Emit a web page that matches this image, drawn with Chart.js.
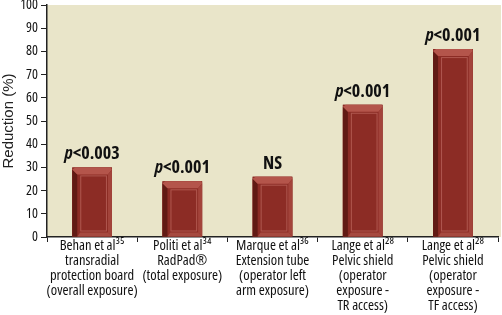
<!DOCTYPE html>
<html>
<head>
<meta charset="utf-8">
<script src="https://cdn.jsdelivr.net/npm/chart.js@4/dist/chart.umd.min.js"></script>
<style>
  html, body { margin: 0; padding: 0; background: #fff; }
  #wrap { width: 502px; height: 315px; }
</style>
</head>
<body>
<div id="wrap"><canvas id="chart" width="502" height="315"></canvas></div>
<script>
"use strict";
// chart data
let studyLabels = [
  ["Behan et al³⁵", "transradial", "protection board", "(overall exposure)"],
  ["Politi et al³⁴", "RadPad®", "(total exposure)"],
  ["Marque et al³⁶", "Extension tube", "(operator left", "arm exposure)"],
  ["Lange et al²⁸", "Pelvic shield", "(operator", "exposure -", "TR access)"],
  ["Lange et al²⁸", "Pelvic shield", "(operator", "exposure -", "TF access)"],
];
let reductionValues = [30, 24, 26, 57, 81];
let pValueLabels = ["<0.003", "<0.001", "NS", "<0.001", "<0.001"];
let yTicks = [0, 10, 20, 30, 40, 50, 60, 70, 80, 90, 100];

// condensed face of Open Sans, set via the weight slot of the font string
const NARROW = "'Open Sans', 'DejaVu Sans Condensed', sans-serif";
const LABEL_LIFT = 8;

// beige plot background
const plotBackground = {
  id: "plotBackground",
  beforeDraw(chart) {
    let a = chart.chartArea;
    let ctx = chart.ctx;
    ctx.save();
    ctx.fillStyle = "#e9e5c9";
    ctx.fillRect(a.left, a.top, a.right - a.left + 3, a.bottom - a.top);
    ctx.restore();
  }
};

// bevelled bar look + p value labels
const bevelBars = {
  id: "bevelBars",
  afterDatasetsDraw(chart) {
    let ctx = chart.ctx;
    let meta = chart.getDatasetMeta(0);
    ctx.save();
    meta.data.forEach(function (bar, i) {
      let left = bar.x - bar.width / 2;
      let right = bar.x + bar.width / 2;
      let top = bar.y;
      let bottom = bar.base;
      let side = 5;
      let bev = 7;

      ctx.fillStyle = "#8c2c25";
      ctx.fillRect(left, top, right - left, bottom - top);

      // dark left side
      ctx.fillStyle = "#611a14";
      ctx.beginPath();
      ctx.moveTo(left, top + 2);
      ctx.lineTo(left + side, top + bev);
      ctx.lineTo(left + side, bottom);
      ctx.lineTo(left, bottom);
      ctx.closePath();
      ctx.fill();

      // top bevel
      ctx.fillStyle = "#b4554b";
      ctx.beginPath();
      ctx.moveTo(left, top + 2);
      ctx.lineTo(left + 3, top);
      ctx.lineTo(right - 1, top);
      ctx.lineTo(right, top + 2);
      ctx.lineTo(right - 4, top + bev);
      ctx.lineTo(left + side, top + bev);
      ctx.closePath();
      ctx.fill();

      // right bevel
      ctx.fillStyle = "#a3443b";
      ctx.beginPath();
      ctx.moveTo(right, top + 2);
      ctx.lineTo(right, bottom);
      ctx.lineTo(right - 4, bottom - 4);
      ctx.lineTo(right - 4, top + bev);
      ctx.closePath();
      ctx.fill();

      // bottom bevel
      ctx.fillStyle = "#a64a40";
      ctx.beginPath();
      ctx.moveTo(left + side, bottom);
      ctx.lineTo(right, bottom);
      ctx.lineTo(right - 4, bottom - 4);
      ctx.lineTo(left + side + 3, bottom - 4);
      ctx.closePath();
      ctx.fill();

      // faint inner highlight
      ctx.strokeStyle = "rgba(220,140,130,0.45)";
      ctx.lineWidth = 1;
      ctx.strokeRect(left + side + 3.5, top + bev + 1.5, right - left - side - 9, bottom - top - bev - 7);

      // p value label
      let txt = pValueLabels[i];
      let ty = top - LABEL_LIFT;
      let regular = "bold condensed 18px " + NARROW;
      let italic = "italic bold condensed 18px " + NARROW;
      ctx.fillStyle = "#111";
      ctx.textBaseline = "alphabetic";
      if (txt === "NS") {
        ctx.font = regular;
        ctx.textAlign = "center";
        ctx.fillText(txt, bar.x, ty);
      } else {
        ctx.font = italic;
        let pw = ctx.measureText("p").width;
        ctx.font = regular;
        let rw = ctx.measureText(txt).width;
        let start = bar.x - (pw + rw) / 2;
        ctx.textAlign = "left";
        ctx.font = italic;
        ctx.fillText("p", start, ty);
        ctx.font = regular;
        ctx.fillText(txt, start + pw, ty);
      }
    });
    ctx.restore();
  }
};

let ctx = document.getElementById("chart").getContext("2d");
let myChart = new Chart(ctx, {
  type: "bar",
  data: {
    labels: studyLabels,
    datasets: [
      {
        label: "Reduction",
        data: reductionValues,
        backgroundColor: "#8c2c25",
        borderWidth: 0,
        categoryPercentage: 1,
        barPercentage: 0.44,
      },
    ],
  },
  options: {
    responsive: false,
    animation: false,
    devicePixelRatio: 1,
    layout: { padding: { top: 5, right: 4, left: 0, bottom: 0 } },
    plugins: {
      legend: { display: false },
      tooltip: { enabled: false },
    },
    scales: {
      x: {
        grid: {
          offset: true,
          drawOnChartArea: false,
          drawTicks: true,
          tickLength: 5,
          color: "#222",
        },
        border: { display: true, color: "#222", width: 1.5 },
        ticks: {
          color: "#111",
          font: { family: NARROW, weight: "condensed", size: 14.5, lineHeight: 1.04 },
          maxRotation: 0,
          autoSkip: false,
          padding: -4,
        },
        afterFit(scale) {
          scale.height = 78;
          scale.paddingLeft = 0;
          scale.paddingRight = 0;
        },
      },
      y: {
        min: 0,
        max: 100,
        afterBuildTicks(scale) {
          scale.ticks = yTicks.map(function (v) { return { value: v }; });
        },
        grid: {
          drawOnChartArea: false,
          drawTicks: true,
          tickLength: 6,
          color: "#222",
        },
        border: { display: true, color: "#222", width: 1.5 },
        ticks: {
          color: "#111",
          font: { family: NARROW, weight: "condensed", size: 14 },
          padding: 3,
        },
        title: {
          display: true,
          text: "Reduction (%)",
          color: "#222",
          font: { family: "'Liberation Sans', Arial, sans-serif", size: 15 },
          padding: { top: 0, bottom: 2 },
        },
        afterFit(scale) {
          scale.width = 47;
          scale.paddingTop = 0;
          scale.paddingBottom = 0;
        },
      },
    },
  },
  plugins: [plotBackground, bevelBars],
});
</script>
</body>
</html>
